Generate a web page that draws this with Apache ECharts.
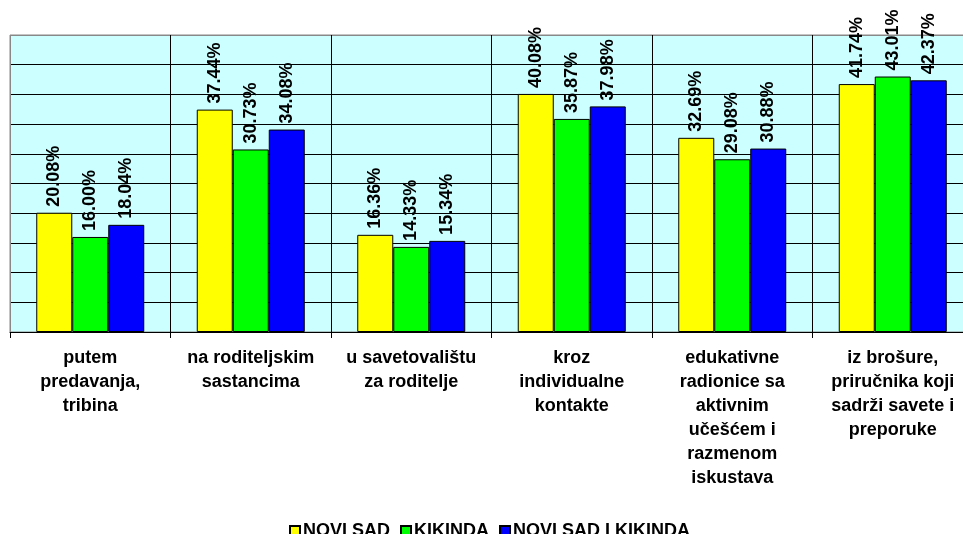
<!DOCTYPE html>
<html>
<head>
<meta charset="utf-8">
<script src="https://cdn.jsdelivr.net/npm/echarts@6/dist/echarts.min.js"></script>
<style>
  html, body { margin: 0; padding: 0; background: #fff; overflow: hidden; }
  /* plot area runs past the right edge of the window, as in the original */
  #chart { width: 973px; height: 534px; }
</style>
</head>
<body>
<div id="chart"></div>
<script>
// kategorije i vrednosti (%)
var categories = [
  'putem\npredavanja,\ntribina',
  'na roditeljskim\nsastancima',
  'u savetovalištu\nza roditelje',
  'kroz\nindividualne\nkontakte',
  'edukativne\nradionice sa\naktivnim\nučešćem i\nrazmenom\niskustava',
  'iz brošure,\npriručnika koji\nsadrži savete i\npreporuke'
];
var noviSad = [20.08, 37.44, 16.36, 40.08, 32.69, 41.74];
var kikinda = [16.00, 30.73, 14.33, 35.87, 29.08, 43.01];
var noviSadKikinda = [18.04, 34.08, 15.34, 37.98, 30.88, 42.37];

var FONT = 'Arial, "Liberation Sans", sans-serif';

var chart = echarts.init(document.getElementById('chart'), null, { renderer: 'canvas' });

function makeSeries(name, data, color) {
  return {
    name: name,
    type: 'bar',
    data: data,
    barWidth: 36,
    barGap: '0%',
    itemStyle: { color: color, borderColor: '#000', borderWidth: 1 },
    label: {
      show: true,
      position: 'top',
      rotate: 90,
      align: 'left',
      verticalAlign: 'middle',
      distance: 6,
      color: '#000',
      fontFamily: FONT,
      fontWeight: 'bold',
      fontSize: 18,
      formatter: function (p) { return p.value.toFixed(2) + '%'; }
    }
  };
}

// gridlines black, plot border (top / left) grey
var hLineColors = ['#000', '#000', '#000', '#000', '#000', '#000', '#000', '#000', '#000', '#000', '#888'];
var vLineColors = ['#888', '#000', '#000', '#000', '#000', '#000', '#000'];

var option = {
  animation: false,
  backgroundColor: '#fff',
  textStyle: { fontFamily: FONT },
  grid: {
    left: 10,
    right: 0,
    top: 35,
    height: 297,
    show: true,
    backgroundColor: '#CCFFFF',
    borderColor: '#888',
    borderWidth: 1
  },
  legend: {
    top: 522,
    left: 289,
    padding: 0,
    icon: 'rect',
    itemWidth: 10,
    itemHeight: 10,
    itemGap: 10,
    textStyle: { fontFamily: FONT, fontWeight: 'bold', fontSize: 18, color: '#000', padding: [0, 0, 0, -2] },
    data: ['NOVI SAD', 'KIKINDA', 'NOVI SAD I KIKINDA']
  },
  xAxis: {
    type: 'category',
    data: categories,
    axisLine: { show: true, lineStyle: { color: '#000', width: 1 } },
    axisTick: { show: true, interval: 0, length: 6, lineStyle: { color: '#000' } },
    splitLine: { show: true, interval: 0, lineStyle: { color: vLineColors, width: 1 } },
    axisLabel: {
      interval: 0,
      margin: 14,
      color: '#000',
      fontFamily: FONT,
      fontWeight: 'bold',
      fontSize: 18,
      lineHeight: 24,
      align: 'center'
    }
  },
  yAxis: {
    type: 'value',
    min: 0,
    max: 50,
    interval: 5,
    axisLine: { show: false },
    axisTick: { show: false },
    axisLabel: { show: false },
    splitLine: { show: true, lineStyle: { color: hLineColors, width: 1 } }
  },
  series: [
    makeSeries('NOVI SAD', noviSad, '#FFFF00'),
    makeSeries('KIKINDA', kikinda, '#00FF00'),
    makeSeries('NOVI SAD I KIKINDA', noviSadKikinda, '#0000FF')
  ]
};

chart.setOption(option);
</script>
</body>
</html>
